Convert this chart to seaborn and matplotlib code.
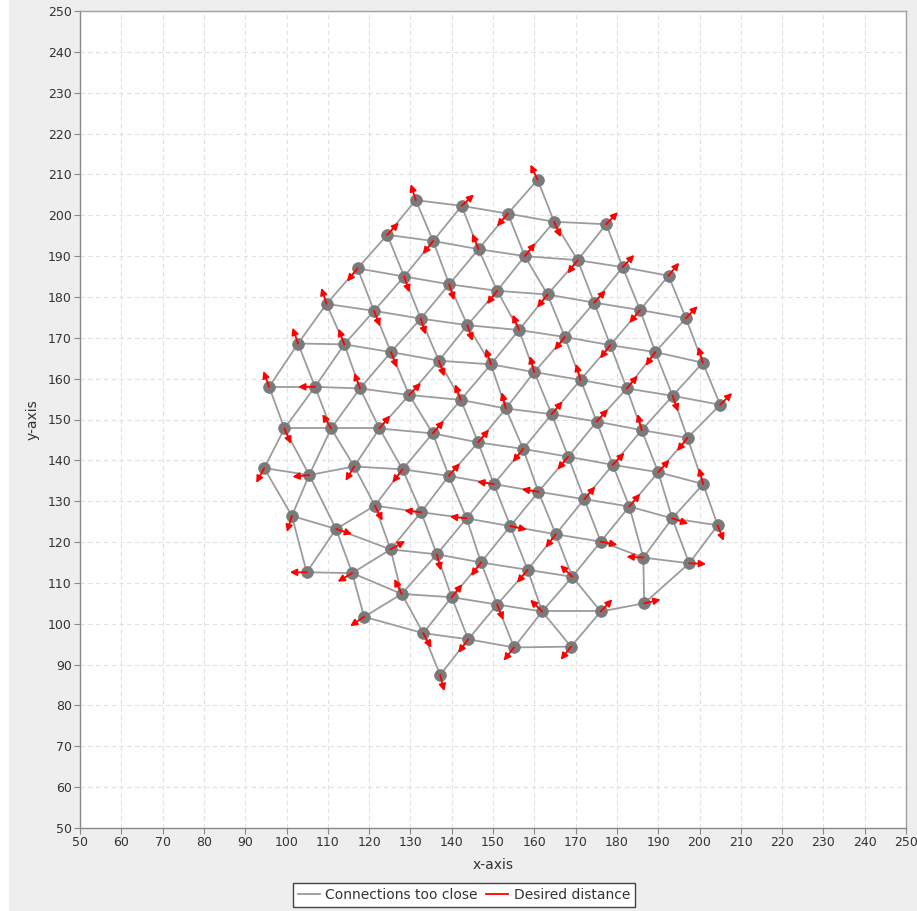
import numpy as np
import pandas as pd
import matplotlib
matplotlib.use("Agg")
import matplotlib.pyplot as plt
import matplotlib.tri as mtri
from matplotlib.lines import Line2D
from matplotlib.patches import Rectangle
import seaborn as sns

# ---------------- data ----------------
node_x = [131.3, 142.4, 153.6, 160.8, 164.8, 177.4,
          124.4, 135.5, 146.5, 157.7, 170.5, 181.4, 192.5,
          117.2, 128.5, 139.4, 151.0, 163.2, 174.5, 185.6, 196.7,
          109.7, 121.2, 132.5, 143.8, 156.3, 167.4, 178.4, 189.3, 200.8,
          102.8, 114.0, 125.3, 136.9, 149.5, 160.0, 171.2, 182.4, 193.5, 205.0,
          95.8, 106.9, 117.8, 129.7, 142.2, 153.1, 164.2, 175.1, 186.0, 197.1,
          99.5, 110.8, 122.5, 135.4, 146.4, 157.3, 168.2, 179.0, 190.0, 200.9,
          94.6, 105.5, 116.4, 128.1, 139.3, 150.2, 161.0, 172.1, 183.0, 193.4, 204.4,
          101.3, 112.0, 121.4, 132.6, 143.6, 154.2, 165.2, 176.1, 186.4, 197.5,
          104.9, 115.9, 125.2, 136.4, 147.1, 158.4, 169.2, 186.6,
          118.8, 127.9, 140.0, 151.0, 161.9, 176.1,
          133.1, 144.0, 155.1, 168.9, 137.2]

node_y = [203.7, 202.3, 200.4, 208.7, 198.4, 197.8,
          195.2, 193.7, 191.7, 190.0, 189.0, 187.3, 185.2,
          187.0, 185.0, 183.1, 181.5, 180.6, 178.6, 176.8, 174.8,
          178.3, 176.6, 174.7, 173.1, 171.9, 170.2, 168.2, 166.5, 163.9,
          168.6, 168.4, 166.5, 164.4, 163.5, 161.6, 159.7, 157.6, 155.8, 153.6,
          158.0, 158.0, 157.6, 156.0, 154.8, 152.7, 151.3, 149.5, 147.4, 145.5,
          147.8, 147.8, 147.8, 146.6, 144.4, 142.8, 140.9, 138.9, 137.1, 134.2,
          138.1, 136.4, 138.5, 137.8, 136.2, 134.2, 132.3, 130.5, 128.7, 125.8, 124.1,
          126.4, 123.2, 128.9, 127.3, 125.8, 123.9, 121.9, 120.1, 116.2, 114.8,
          112.6, 112.4, 118.2, 117.0, 115.0, 113.2, 111.5, 105.0,
          101.7, 107.3, 106.5, 104.7, 103.0, 103.0,
          97.7, 96.2, 94.2, 94.4, 87.5]

# direction of the "desired distance" arrow at each node (degrees)
arrow_angle = [107, 43, 230, 115, 293, 46,
               47, 232, 112, 51, 233, 47, 51,
               232, 288, 287, 233, 232, 47, 231, 46,
               108, 291, 287, 288, 112, 232, 233, 235, 106,
               109, 110, 291, 289, 108, 105, 106, 50, 289, 45,
               110, 180, 110, 46, 110, 104, 50, 48, 104, 232,
               293, 121, 51, 49, 50, 232, 231, 46, 48, 105,
               242, 186, 239, 233, 49, 172, 171, 49, 50, 341, 291,
               253, 342, 297, 174, 174, 348, 233, 349, 177, 358,
               180, 211, 30, 284, 234, 231, 136, 13,
               214, 116, 51, 292, 135, 47,
               299, 234, 232, 232, 284]

arrow_length = 4.1
max_link = 15.5

tick_values = list(range(50, 251, 10))
legend_labels = ["Connections too close", "Desired distance"]

# ---------------- derived tables ----------------
nodes = pd.DataFrame({"x": node_x, "y": node_y, "angle": arrow_angle})

tri = mtri.Triangulation(nodes["x"].values, nodes["y"].values)
rows = []
eid = 0
for a, b in tri.edges:
    xa, ya = node_x[a], node_y[a]
    xb, yb = node_x[b], node_y[b]
    if np.hypot(xa - xb, ya - yb) <= max_link:
        rows.append({"x": xa, "y": ya, "edge": eid})
        rows.append({"x": xb, "y": yb, "edge": eid})
        eid += 1
edges = pd.DataFrame(rows)

# ---------------- figure ----------------
W, H = 917, 911
fig = plt.figure(figsize=(W / 100, H / 100), dpi=100, facecolor="#EEEEEE")
fig.add_artist(Rectangle((0, 0), 9 / W, 1, transform=fig.transFigure,
                         facecolor="white", edgecolor="none", zorder=-5))
ax = fig.add_axes([80 / W, 1 - 828 / H, (906 - 80) / W, (828 - 11) / H])
ax.set_facecolor("white")

sns.lineplot(data=edges, x="x", y="y", units="edge", estimator=None, sort=False,
             color="#9C9C9C", linewidth=1.3, ax=ax, zorder=2, legend=False)
sns.scatterplot(data=nodes, x="x", y="y", s=72, color="#7A7A7A",
                edgecolor="#7A7A7A", linewidth=0.5, ax=ax, zorder=3, legend=False)

for _, r in nodes.iterrows():
    th = np.deg2rad(r["angle"])
    ax.annotate("", xy=(r["x"] + arrow_length * np.cos(th), r["y"] + arrow_length * np.sin(th)),
                xytext=(r["x"], r["y"]),
                arrowprops=dict(arrowstyle="-|>,head_length=0.8,head_width=0.4",
                                color="#FF0000", lw=1.3, shrinkA=0, shrinkB=0,
                                mutation_scale=5),
                zorder=4)

ax.set_xlim(50, 250)
ax.set_ylim(50, 250)
ax.set_xticks(tick_values)
ax.set_yticks(tick_values)
ax.tick_params(axis="both", direction="out", length=4, width=0.8, color="#888888",
               labelsize=9, labelcolor="#333333", pad=2)
ax.grid(True, color="#E0E0E0", linestyle=(0, (4, 3)), linewidth=0.8)
ax.set_axisbelow(True)
for sp in ax.spines.values():
    sp.set_color("#A0A0A0")
    sp.set_linewidth(1.0)
ax.spines["left"].set_color("#888888")
ax.spines["bottom"].set_color("#888888")

ax.set_xlabel("x-axis", fontsize=10, color="#333333", labelpad=6)
ax.set_ylabel("y-axis", fontsize=10, color="#333333", labelpad=6)

handles = [Line2D([0], [0], color="#999999", lw=1.3),
           Line2D([0], [0], color="#FF0000", lw=1.3)]
leg = fig.legend(handles, legend_labels, loc="upper center",
                 bbox_to_anchor=(464 / W, 1 - 883 / H), ncol=2, frameon=True,
                 fancybox=False, edgecolor="#444444", framealpha=1,
                 fontsize=10, handlelength=1.6, handletextpad=0.4,
                 columnspacing=0.6, borderpad=0.35, borderaxespad=0)
leg.get_frame().set_linewidth(1.0)
for t in leg.get_texts():
    t.set_color("#333333")

fig.savefig("out.png", dpi=100, facecolor=fig.get_facecolor())
